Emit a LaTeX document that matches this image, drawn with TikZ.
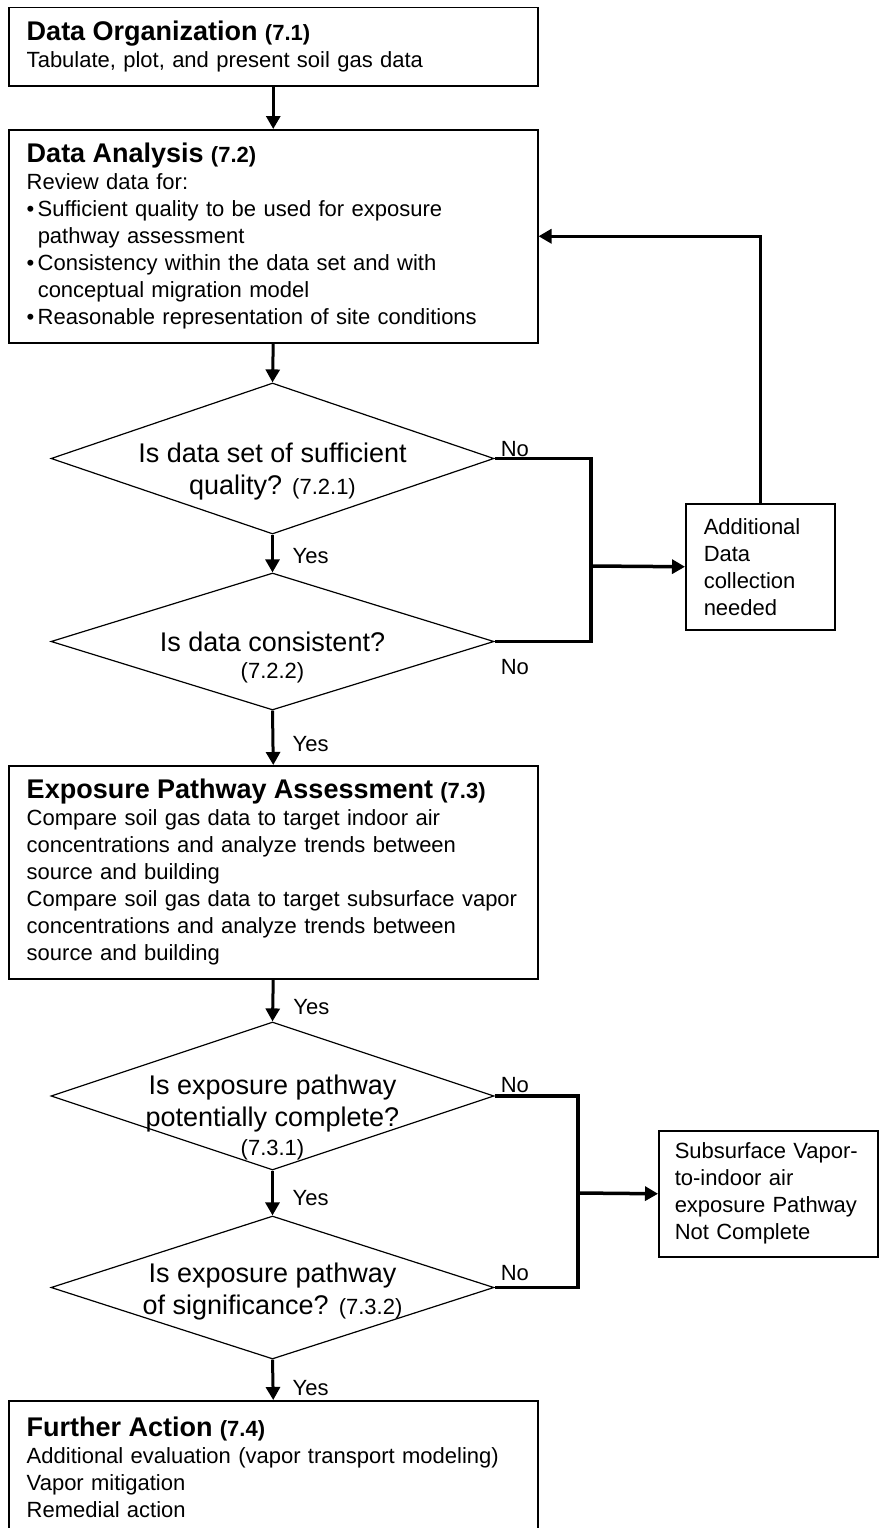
\documentclass[tikz,border=0pt]{standalone}
\usepackage{fontspec}
\setmainfont{Liberation Sans}
\usetikzlibrary{arrows.meta, shapes.geometric, positioning}
\setlength{\parindent}{0pt}

\newcommand{\hd}[2]{{\fontsize{27}{27}\selectfont\bfseries #1} {\bfseries #2}\par}
\newcommand{\bul}[1]{\par\hangindent=11pt\hangafter=1\noindent\makebox[11pt][l]{\textbullet}#1\par}
\newcommand{\sm}[1]{{\fontsize{22}{26}\selectfont #1}}

\begin{document}
\begin{tikzpicture}[x=1pt, y=-1pt,
    stagebox/.style={draw, line width=1.5pt, text width=493pt, inner xsep=18pt, inner ysep=0pt,
                     align=left, anchor=north west, font=\fontsize{22}{27}\selectfont},
    side/.style={draw, line width=1.5pt, inner ysep=0pt, align=left, anchor=north west,
                 minimum height=126pt, font=\fontsize{22}{27}\selectfont},
    quest/.style={diamond, draw, line width=1.2pt, minimum width=443pt, inner sep=0pt},
    qtext/.style={font=\fontsize{27}{32}\selectfont, align=center, inner sep=0pt},
    lbl/.style={font=\fontsize{22}{26}\selectfont, inner sep=0pt, anchor=base west},
    arr/.style={-{Triangle[length=13pt, width=14pt]}, line width=3pt},
    link/.style={line width=3.5pt}
  ]
    \path[use as bounding box, fill=white] (0,0) rectangle (880,1528);

    % main column
    \node[stagebox, minimum height=78pt] (org) at (8,7)
      {\hd{Data Organization}{(7.1)}Tabulate, plot, and present soil gas data};
    \node[stagebox, minimum height=213pt] (ana) at (8,129)
      {\hd{Data Analysis}{(7.2)}Review data for:
       \bul{Sufficient quality to be used for exposure\newline pathway assessment}
       \bul{Consistency within the data set and with\newline conceptual migration model}
       \bul{Reasonable representation of site conditions}};
    \node[quest, minimum height=151pt,
          label={[qtext, yshift=-13pt]center:{Is data set of sufficient\\quality? \sm{(7.2.1)}}}]
      (qual) at (272.5,458.5) {};
    \node[quest, minimum height=137pt,
          label={[qtext, yshift=-16pt]center:{Is data consistent?\\[-5pt]\sm{(7.2.2)}}}]
      (cons) at (272.5,641.5) {};
    \node[stagebox, minimum height=213pt] (exp) at (8,765)
      {\hd{Exposure Pathway Assessment}{(7.3)}Compare soil gas data to target indoor air\\
       concentrations and analyze trends between\\source and building\par
       Compare soil gas data to target subsurface vapor\\
       concentrations and analyze trends between\\source and building};
    \node[quest, minimum height=148pt,
          label={[qtext, yshift=-21.5pt]center:{Is exposure pathway\\potentially complete?\\[-3pt]\sm{(7.3.1)}}}]
      (pot) at (272.5,1096) {};
    \node[quest, minimum height=143pt,
          label={[qtext, yshift=-4pt]center:{Is exposure pathway\\of significance? \sm{(7.3.2)}}}]
      (sig) at (272.5,1287.5) {};
    \node[stagebox, minimum height=134pt] (act) at (8,1400)
      {\hd{Further Action}{(7.4)}Additional evaluation (vapor transport modeling)\\
       Vapor mitigation\\Remedial action};

    % side outcomes
    \node[side, text width=113pt, inner xsep=18pt] (more) at (685,503)
      {Additional\\Data\\collection\\needed};
    \node[side, text width=187pt, inner xsep=16pt] (done) at (658,1130)
      {Subsurface Vapor-\\to-indoor air\\exposure Pathway\\Not Complete};

    % main flow
    \draw[arr] (org.south) -- (ana.north);
    \draw[arr] (ana.south) -- (qual.north);
    \draw[arr] (qual.south) -- (cons.north);
    \draw[arr] (cons.south) -- (exp.north);
    \draw[arr] (exp.south) -- (pot.north);
    \draw[arr] (pot.south) -- (sig.north);
    \draw[arr] (sig.south) -- (act.north);

    \node[lbl] (y1) at ([shift={(20,29)}]qual.south) {Yes};
    \node[lbl] (y2) at ([shift={(20,41)}]cons.south) {Yes};
    \node[lbl] (y3) at ([shift={(20,35)}]exp.south) {Yes};
    \node[lbl] (y4) at ([shift={(20,35)}]pot.south) {Yes};
    \node[lbl] (y5) at ([shift={(20,36)}]sig.south) {Yes};

    % no branches
    \coordinate (j1) at (591,566);
    \coordinate (j2) at (578,1193);
    \draw[link] (qual.east) -| (j1) |- (cons.east);
    \draw[arr, line width=3.5pt] (j1) -- (more.west);
    \draw[arr, line width=3.5pt] (more.north) |- (ana.east);
    \draw[link] (pot.east) -| (j2) |- (sig.east);
    \draw[arr, line width=3.5pt] (j2) -- (done.west);

    \node[lbl] (n1) at ([shift={(6,-2)}]qual.east) {No};
    \node[lbl] (n2) at ([shift={(6,33)}]cons.east) {No};
    \node[lbl] (n3) at ([shift={(6,-4)}]pot.east) {No};
    \node[lbl] (n4) at ([shift={(6,-7)}]sig.east) {No};
\end{tikzpicture}
\end{document}
